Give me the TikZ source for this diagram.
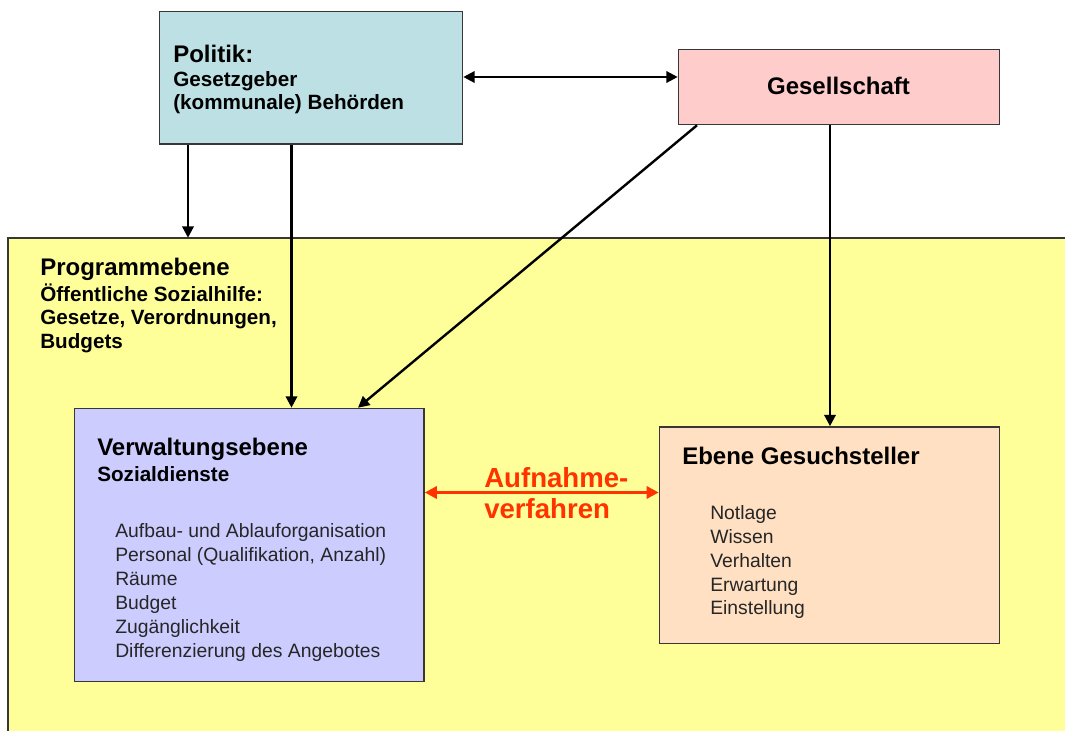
\documentclass[tikz,border=0pt]{standalone}
\usepackage{fontspec}
\setmainfont{Liberation Sans}
\usetikzlibrary{arrows.meta}

\definecolor{polfill}{RGB}{188,224,227}
\definecolor{gesfill}{RGB}{255,204,204}
\definecolor{progfill}{RGB}{255,255,153}
\definecolor{verwfill}{RGB}{204,204,255}
\definecolor{suchfill}{RGB}{255,224,194}
\definecolor{framecol}{RGB}{55,55,55}
\definecolor{procred}{RGB}{255,51,0}

\begin{document}
\begin{tikzpicture}[x=0.75pt,y=-0.75pt,
  box/.style={draw=framecol, line width=1.2pt, inner sep=0pt},
  lbl/.style={anchor=base west, inner sep=0pt},
  head/.style={lbl, font=\fontsize{18}{20}\selectfont\bfseries},
  subhead/.style={lbl, font=\fontsize{15.5}{18}\selectfont\bfseries},
  item/.style={lbl, text=black!85, font=\fontsize{14.5}{17}\selectfont},
  tip/.style={},
  arr/.style={line width=1.8pt, -{Triangle[length=8.5pt,width=8.5pt]}},
  arrboth/.style={line width=1.8pt, {Triangle[length=8.5pt,width=8.5pt]}-{Triangle[length=8.5pt,width=8.5pt]}},
  redarr/.style={draw=procred, line width=2.5pt, {Triangle[length=9pt,width=9pt]}-{Triangle[length=9pt,width=9pt]}}
]
\useasboundingbox (0,0) rectangle (1065,731);

% programme level: the large yellow field
\node[fill=progfill, inner sep=0pt, minimum width=792.4pt, minimum height=369.75pt] (prog) at (536.75,484.5) {};
\draw[framecol, line width=1.2pt] (prog.south west) -- (prog.north west) -- (prog.north east);

% boxes
\node[box, fill=polfill, minimum width=227.25pt, minimum height=99.4pt] (pol) at (311,77.75) {};
\node[box, fill=gesfill, minimum width=240.75pt, minimum height=56.25pt] (ges) at (839,87) {};
\node[box, fill=verwfill, minimum width=262.1pt, minimum height=204.75pt] (verw) at (249.25,545) {};
\node[box, fill=suchfill, minimum width=255pt, minimum height=162.4pt] (such) at (829.5,535.25) {};

% texts
\node[head] (polA) at (173,63) {Politik:};
\node[subhead] (polB) at (173,87) {Gesetzgeber};
\node[subhead] (polC) at (173,110) {(kommunale) Behörden};

\node[head, anchor=base] (gesA) at (838.5,95) {Gesellschaft};

\node[head] (progA) at (40,276) {Programmebene};
\node[subhead] (progB) at (40,301) {Öffentliche Sozialhilfe:};
\node[subhead] (progC) at (40,325) {Gesetze, Verordnungen,};
\node[subhead] (progD) at (40,349) {Budgets};

\node[head] (verwA) at (97,455) {Verwaltungsebene};
\node[subhead] (verwB) at (97,481) {Sozialdienste};
\node[item] (verw1) at (115,537) {Aufbau- und Ablauforganisation};
\node[item] (verw2) at (115,561) {Personal (Qualifikation, Anzahl)};
\node[item] (verw3) at (115,585) {Räume};
\node[item] (verw4) at (115,609) {Budget};
\node[item] (verw5) at (115,633) {Zugänglichkeit};
\node[item] (verw6) at (115,657) {Differenzierung des Angebotes};

\node[head] (suchA) at (682,464) {Ebene Gesuchsteller};
\node[item] (such1) at (710,519) {Notlage};
\node[item] (such2) at (710,543) {Wissen};
\node[item] (such3) at (710,567) {Verhalten};
\node[item] (such4) at (710,591) {Erwartung};
\node[item] (such5) at (710,614.5) {Einstellung};

\node[lbl, text=procred, font=\fontsize{20.7}{24}\selectfont\bfseries] (procA) at (484,487) {Aufnahme-};
\node[lbl, text=procred, font=\fontsize{20.7}{24}\selectfont\bfseries] (procB) at (484,518) {verfahren};

% reference positions for the connectors
\coordinate (x188) at (188,0);
\coordinate (x291) at (291.5,0);
\coordinate (x697) at (697,0);
\coordinate (x358) at (358,0);
\coordinate (x830) at (830,0);
\coordinate (y77) at (0,77);
\coordinate (y493) at (0,492.5);

% connectors
\draw[arrboth] (pol.east |- y77) -- (ges.west |- y77);
\draw[arr] (pol.south -| x188) -- (prog.north -| x188);
\draw[arr] (pol.south -| x291) -- (verw.north -| x291);
\draw[arr] (ges.south -| x697) -- (verw.north -| x358);
\draw[arr] (ges.south -| x830) -- (such.north -| x830);
\draw[redarr] (verw.east |- y493) -- (such.west |- y493);
\end{tikzpicture}
\end{document}
